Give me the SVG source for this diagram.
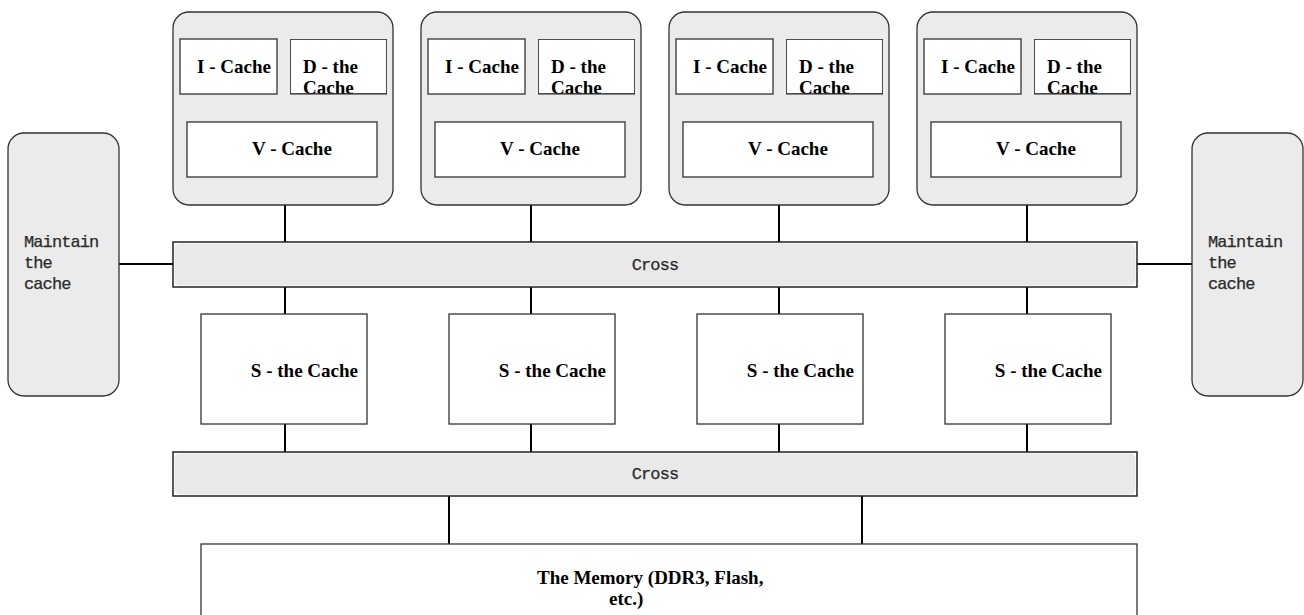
<svg xmlns="http://www.w3.org/2000/svg" width="1304" height="615" viewBox="0 0 1304 615">
  <style>
    .core { fill: #ebebeb; stroke: #333; stroke-width: 1.3; }
    .box { fill: #fff; stroke: #333; stroke-width: 1.3; }
    .bar { fill: #fff; stroke: #222; stroke-width: 1.5; }
    .barfill { fill: #e9e9e9; }
    .side { fill: #ebebeb; stroke: #333; stroke-width: 1.3; }
    .wire { stroke: #000; stroke-width: 2; fill: none; }
    .lbl { font-family: "Liberation Serif", "Times New Roman", serif; font-weight: bold; font-size: 19px; fill: #000; }
    .mono { font-family: "Liberation Mono", "Courier New", monospace; font-size: 17px; letter-spacing: -0.9px; fill: #2a2a2a; stroke: #2a2a2a; stroke-width: 0.25; }
  </style>
  <defs>
    <!-- one processor core: L1 instruction/data caches plus vector cache -->
    <g id="coreTpl">
      <rect class="core" x="0" y="0" width="220" height="193" rx="16"/>
      <rect class="box" x="7" y="27" width="97" height="55"/>
      <text class="lbl" x="24" y="61">I - Cache</text>
      <svg x="117" y="27" width="97" height="55.6" overflow="hidden">
        <rect class="box" x="0" y="0" width="97" height="55"/>
        <text class="lbl" x="13" y="34">D - the</text>
        <text class="lbl" x="13" y="55">Cache</text>
        <rect x="0" y="0" width="97" height="55" fill="none" stroke="#333" stroke-width="1.3"/>
      </svg>
      <rect class="box" x="14" y="110" width="190" height="55"/>
      <text class="lbl" x="79" y="143" font-size="18">V - Cache</text>
    </g>
    <!-- shared second-level cache slice -->
    <g id="sTpl">
      <rect class="box" x="0" y="0" width="166" height="110"/>
      <text class="lbl" x="157" y="63" text-anchor="end" font-size="20">S - the Cache</text>
    </g>
  </defs>

  <!-- connectors -->
  <g id="connectors">
    <path class="wire" d="M285 205V242M531 205V242M779 205V242M1027 205V242"/>
    <path class="wire" d="M285 287V314M531 287V314M779 287V314M1027 287V314"/>
    <path class="wire" d="M285 424V452M531 424V452M779 424V452M1027 424V452"/>
    <path class="wire" d="M449 496V544M862 496V544"/>
    <path class="wire" d="M119 264H173M1137 264H1192"/>
  </g>

  <!-- cores -->
  <g id="core1"><use href="#coreTpl" x="173" y="12"/></g>
  <g id="core2"><use href="#coreTpl" x="421" y="12"/></g>
  <g id="core3"><use href="#coreTpl" x="669" y="12"/></g>
  <g id="core4"><use href="#coreTpl" x="917" y="12"/></g>

  <!-- cache maintenance units -->
  <g id="maintainLeft">
    <rect class="side" x="8" y="133" width="111" height="263" rx="16"/>
    <text class="mono" x="24" y="247">Maintain</text>
    <text class="mono" x="24" y="268">the</text>
    <text class="mono" x="24" y="289">cache</text>
  </g>
  <g id="maintainRight">
    <rect class="side" x="1192" y="133" width="111" height="263" rx="16"/>
    <text class="mono" x="1208" y="247">Maintain</text>
    <text class="mono" x="1208" y="268">the</text>
    <text class="mono" x="1208" y="289">cache</text>
  </g>

  <!-- crossbar between cores and shared caches -->
  <g id="crossbar1">
    <rect class="bar" x="173" y="242" width="964" height="45"/>
    <rect class="barfill" x="174.5" y="243.5" width="961" height="42" rx="5"/>
    <text class="mono" x="655" y="270" text-anchor="middle">Cross</text>
  </g>

  <!-- shared caches -->
  <g id="scache1"><use href="#sTpl" x="201" y="314"/></g>
  <g id="scache2"><use href="#sTpl" x="449" y="314"/></g>
  <g id="scache3"><use href="#sTpl" x="697" y="314"/></g>
  <g id="scache4"><use href="#sTpl" x="945" y="314"/></g>

  <!-- crossbar between shared caches and memory -->
  <g id="crossbar2">
    <rect class="bar" x="173" y="452" width="964" height="44"/>
    <rect class="barfill" x="174.5" y="453.5" width="961" height="41" rx="5"/>
    <text class="mono" x="655" y="479" text-anchor="middle">Cross</text>
  </g>

  <!-- main memory -->
  <g id="memory">
    <rect class="box" x="201" y="544" width="936" height="100"/>
    <text class="lbl" x="537" y="584" font-size="19.5">The Memory (DDR3, Flash,</text>
    <text class="lbl" x="609" y="605" font-size="19.5">etc.)</text>
  </g>
</svg>
